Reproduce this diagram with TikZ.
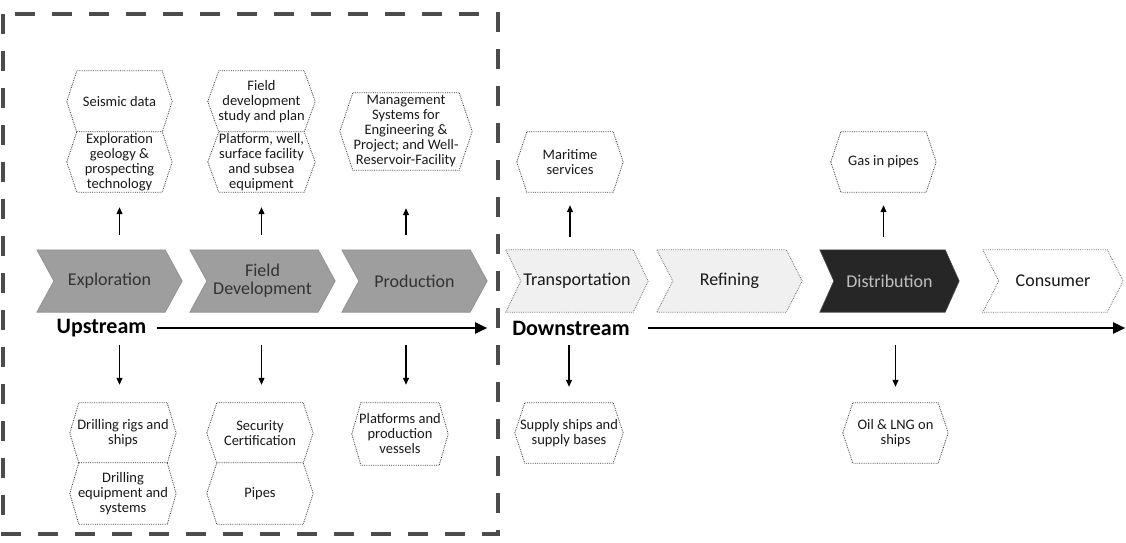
\documentclass[tikz,border=0pt]{standalone}
\usepackage{fontspec}
\setmainfont{Carlito}
\usetikzlibrary{arrows.meta,backgrounds}

\tikzset{
  hexlabel/.style={rectangle, inner sep=0pt, align=center, text=black!90,
    font=\fontsize{14.5}{15}\selectfont},
  hexline/.style={draw=black!75, densely dotted, line width=0.8pt, fill=white},
  chevlabel/.style={rectangle, inner sep=0pt, align=center, minimum height=62pt,
    font=\fontsize{18}{18}\selectfont},
  chevgray/.style={fill=black!38, draw=black!45, line width=0.6pt},
  chevlight/.style={fill=black!6, draw=black!55, densely dotted, line width=0.8pt},
  chevwhite/.style={fill=white, draw=black!55, densely dotted, line width=0.8pt},
  chevdark/.style={fill=black!85, draw=black!70, line width=0.6pt},
  streamlabel/.style={inner sep=0pt, font=\fontsize{22}{22}\selectfont\bfseries},
  bigarrow/.style={draw=black, line width=2pt, -{Triangle[length=12pt,width=11pt]}},
  smallarrow/.style={draw=black, line width=1.2pt, -{Triangle[length=7pt,width=6pt]}},
  border/.style={draw=black!70, line width=3.5pt, dash pattern=on 20pt off 17pt},
}

% name, cx, cy, width, height, point depth, text
\newcommand\hexnode[7]{%
  \node[hexlabel, minimum width=#4pt, minimum height=#5pt] (#1) at (#2,#3) {#7};
  \begin{pgfonlayer}{background}
    \path[hexline] (#1.west) -- ([xshift=#6pt]#1.north west) -- ([xshift=-#6pt]#1.north east)
      -- (#1.east) -- ([xshift=-#6pt]#1.south east) -- ([xshift=#6pt]#1.south west) -- cycle;
  \end{pgfonlayer}}

% name, cx, width, depth, fill style, text colour, text
\newcommand\chevnode[7]{%
  \node[chevlabel, minimum width=#3pt, text=#6] (#1) at (#2,281) {#7};
  \begin{pgfonlayer}{background}
    \path[#5] (#1.north west) -- ([xshift=-#4pt]#1.north east) -- (#1.east)
      -- ([xshift=-#4pt]#1.south east) -- (#1.south west) -- ([xshift=#4pt]#1.west) -- cycle;
  \end{pgfonlayer}}

\begin{document}
\begin{tikzpicture}[x=1pt, y=-1pt]
\useasboundingbox (0,0) rectangle (1126,542);

% upstream frame
\draw[border] (3,14) rectangle (498,534);

% chevrons
\chevnode{expl}{109.5}{145}{17}{chevgray}{black!80}{Exploration}
\chevnode{fdev}{262.5}{145}{17}{chevgray}{black!80}{Field\\Development}
\chevnode{prod}{414.5}{145}{17}{chevgray}{black!80}{Production}
\chevnode{trans}{577}{142}{15}{chevlight}{black!90}{Transportation}
\chevnode{ref}{729.5}{145}{16}{chevlight}{black!90}{Refining}
\chevnode{dist}{889.5}{139}{14}{chevdark}{black!25}{Distribution}
\chevnode{cons}{1053}{140}{16}{chevwhite}{black!90}{Consumer}

% upper boxes
\hexnode{seis}{119.5}{101.5}{105}{61}{10}{Seismic data}
\hexnode{geo}{119.5}{162}{105}{60}{10}{Exploration\\geology \&\\prospecting\\technology}
\hexnode{fdsp}{261.5}{101.5}{107}{61}{11}{Field\\development\\study and plan}
\hexnode{pwss}{261.5}{162}{107}{60}{11}{Platform, well,\\surface facility\\and subsea\\equipment}
\hexnode{mgmt}{406}{131.5}{132}{77}{13}{Management\\Systems for\\Engineering \&\\Project; and Well-\\Reservoir-Facility}
\hexnode{mar}{570}{162}{106}{60}{10}{Maritime\\services}
\hexnode{gas}{883.5}{162}{105}{60}{10}{Gas in pipes}

% lower boxes
\hexnode{rigs}{123}{433}{106}{60}{9}{Drilling rigs and\\ships}
\hexnode{dreq}{123}{493.5}{106}{61}{9}{Drilling\\equipment and\\systems}
\hexnode{sec}{260}{433}{106}{60}{10}{Security\\Certification}
\hexnode{pipes}{260}{493.5}{106}{61}{10}{Pipes}
\hexnode{plat}{400}{434}{96}{62}{9}{Platforms and\\production\\vessels}
\hexnode{sup}{569}{433}{108}{60}{10}{Supply ships and\\supply bases}
\hexnode{oil}{895.5}{433}{105}{60}{10}{Oil \& LNG on\\ships}

% stream labels and axes
\node[streamlabel] (up) at (101.5,328) {Upstream};
\node[streamlabel] (down) at (571,328) {Downstream};
\draw[bigarrow, shorten <=10pt] (up.east) -- (prod.east |- up.east);
\draw[bigarrow, shorten <=18pt] (down.east) -- ([xshift=2pt]cons.east |- down.east);

% up arrows
\draw[smallarrow, shorten <=15pt, shorten >=15pt] (expl.north -| geo.south) -- (geo.south);
\draw[smallarrow, shorten <=15pt, shorten >=15pt] (fdev.north -| pwss.south) -- (pwss.south);
\draw[smallarrow, shorten <=15pt, shorten >=38pt] (prod.north -| mgmt.south) -- (mgmt.south);
\draw[smallarrow, shorten <=13pt, shorten >=13pt] (trans.north -| mar.south) -- (mar.south);
\draw[smallarrow, shorten <=13pt, shorten >=13pt] (dist.north -| gas.south) -- (gas.south);

% down arrows
\draw[smallarrow, shorten <=33pt, shorten >=18pt] (expl.south -| seis.south) -- (rigs.north -| seis.south);
\draw[smallarrow, shorten <=33pt, shorten >=18pt] (fdev.south -| fdsp.south) -- (sec.north -| fdsp.south);
\draw[smallarrow, shorten <=33pt, shorten >=18pt] (prod.south -| mgmt.south) -- (plat.north -| mgmt.south);
\draw[smallarrow, shorten <=33pt, shorten >=16pt] (trans.south -| sup.north) -- (sup.north);
\draw[smallarrow, shorten <=33pt, shorten >=16pt] (dist.south -| oil.north) -- (oil.north);
\end{tikzpicture}
\end{document}
